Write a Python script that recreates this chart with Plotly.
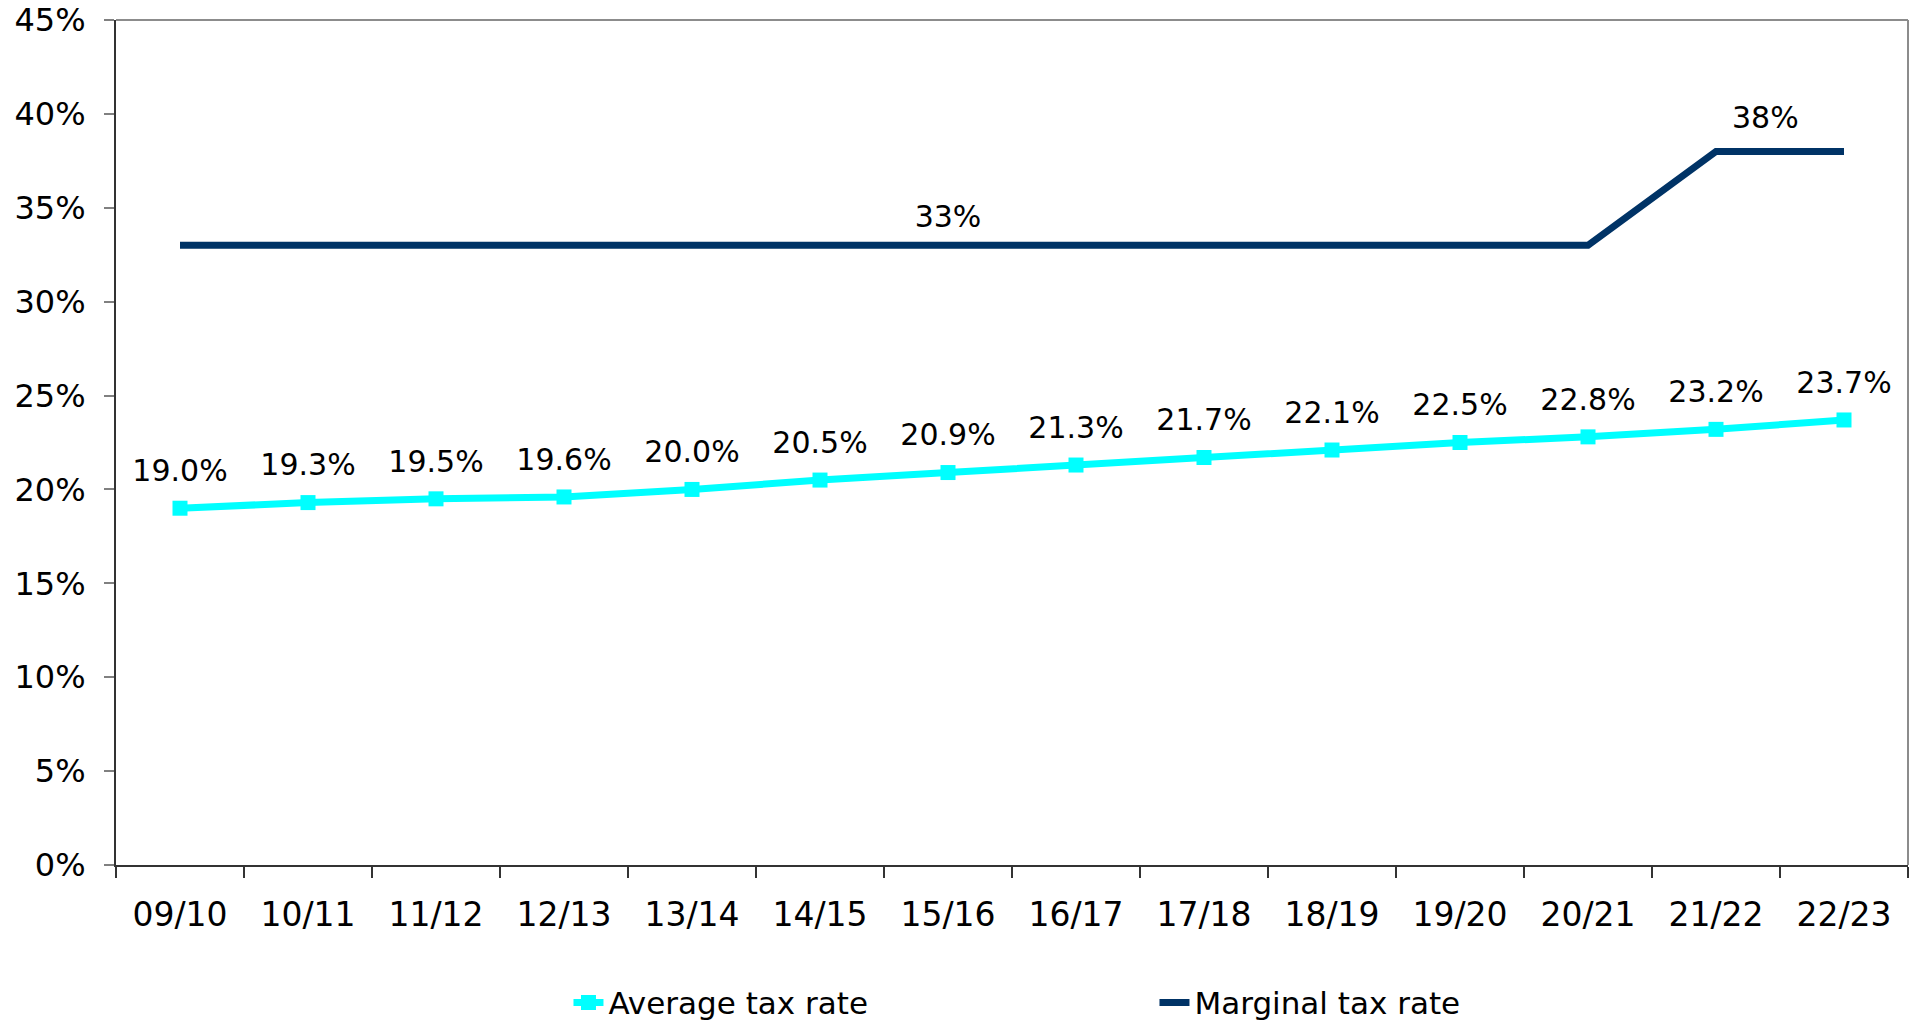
import plotly.graph_objects as go

years = ["09/10", "10/11", "11/12", "12/13", "13/14", "14/15", "15/16",
         "16/17", "17/18", "18/19", "19/20", "20/21", "21/22", "22/23"]
average_rate = [19.0, 19.3, 19.5, 19.6, 20.0, 20.5, 20.9, 21.3, 21.7, 22.1, 22.5, 22.8, 23.2, 23.7]
marginal_rate = [33, 33, 33, 33, 33, 33, 33, 33, 33, 33, 33, 33, 38, 38]
marginal_label_idx = [6, 12]
y_ticks = [0, 5, 10, 15, 20, 25, 30, 35, 40, 45]

FONT = "DejaVu Sans, Verdana, sans-serif"

avg_text = [f"{v:.1f}%" for v in average_rate]
marg_text = [f"{v}%" if i in marginal_label_idx else "" for i, v in enumerate(marginal_rate)]
marg_pos = ["top right" if i == 12 else "top center" for i in range(len(marginal_rate))]
marg_offset = [24 if i == 12 else 16 for i in range(len(marginal_rate))]

fig = go.Figure()
fig.add_trace(go.Scatter(
    x=years, y=average_rate, name="Average tax rate",
    mode="lines+markers",
    line=dict(color="#00FFFF", width=7),
    marker=dict(symbol="square", size=15, color="#00FFFF"),
))
fig.add_trace(go.Scatter(
    x=years, y=marginal_rate, name="Marginal tax rate",
    mode="lines",
    line=dict(color="#003366", width=7),
))
# data labels (invisible markers give the label offset)
fig.add_trace(go.Scatter(
    x=years, y=average_rate, mode="markers+text", showlegend=False, hoverinfo="skip",
    marker=dict(size=30, opacity=0),
    text=avg_text, textposition="top center",
    textfont=dict(family=FONT, size=30, color="#000000"),
    cliponaxis=False,
))
fig.add_trace(go.Scatter(
    x=years, y=marginal_rate, mode="markers+text", showlegend=False, hoverinfo="skip",
    marker=dict(size=marg_offset, opacity=0),
    text=marg_text, textposition=marg_pos,
    textfont=dict(family=FONT, size=30, color="#000000"),
    cliponaxis=False,
))

fig.update_layout(
    width=1915, height=1024,
    margin=dict(l=116, r=7, t=20, b=159, autoexpand=False),
    paper_bgcolor="white", plot_bgcolor="white",
    font=dict(family=FONT, size=31, color="#000000"),
    showlegend=True,
    legend=dict(
        orientation="h", x=0.2525, xanchor="left", y=-0.163, yanchor="middle",
        font=dict(family=FONT, size=31, color="#000000"),
        entrywidth=541, entrywidthmode="pixels",
        bgcolor="rgba(0,0,0,0)",
    ),
    xaxis=dict(
        type="category", range=[-0.5, 13.5], automargin=False,
        tickson="boundaries", ticks="outside", ticklen=11, tickwidth=1.5,
        tickcolor="#333333",
        showline=True, linecolor="#333333", linewidth=2,
        showgrid=False, zeroline=False,
        tickfont=dict(family=FONT, size=33, color="#000000"),
        ticklabelstandoff=19,
    ),
    yaxis=dict(
        range=[0, 45], tickvals=y_ticks, ticktext=[f"{t}%" for t in y_ticks],
        automargin=False,
        ticks="outside", ticklen=10, tickwidth=1.5, tickcolor="#808080",
        showline=True, linecolor="#333333", linewidth=2,
        showgrid=False, zeroline=False,
        tickfont=dict(family=FONT, size=32, color="#000000"),
        ticklabelstandoff=12,
    ),
    shapes=[
        dict(type="line", xref="paper", yref="paper", x0=0, x1=1, y0=1, y1=1,
             line=dict(color="#8c8c8c", width=2)),
        dict(type="line", xref="paper", yref="paper", x0=1, x1=1, y0=0, y1=1,
             line=dict(color="#8c8c8c", width=2)),
    ],
)

fig.write_html(
    "out.html",
    config={"displayModeBar": False},
    post_script="document.body.style.margin='0';document.body.style.overflow='hidden';",
)
